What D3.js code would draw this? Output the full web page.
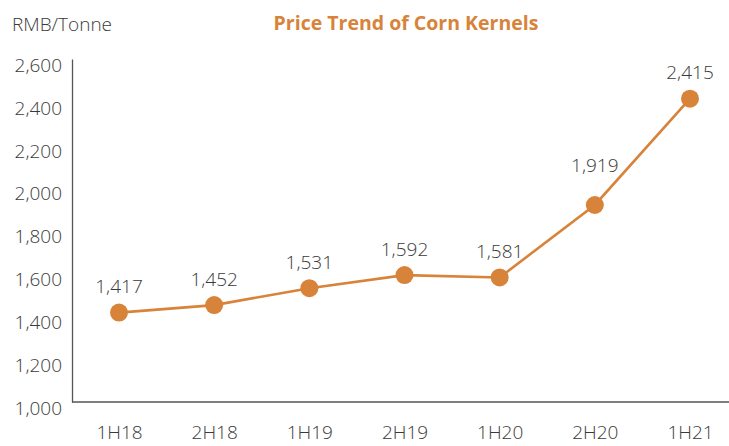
<!DOCTYPE html>
<html>
<head>
<meta charset="utf-8">
<script src="https://cdn.jsdelivr.net/npm/d3@7"></script>
<style>
  body { margin: 0; background: #fff; }
  text { font-family: "Open Sans", "Noto Sans", sans-serif; }
</style>
</head>
<body>
<svg id="chart" width="729" height="446"></svg>
<script>
// chart data
const periods = ['1H18', '2H18', '1H19', '2H19', '1H20', '2H20', '1H21'];
const prices = [1417, 1452, 1531, 1592, 1581, 1919, 2415];
const yTicks = [1000, 1200, 1400, 1600, 1800, 2000, 2200, 2400, 2600];

const width = 729;
const height = 446;
const margin = { top: 59, right: 0, bottom: 44, left: 72 };
const orange = '#d8833a';
const textColor = '#3a3a3a';
const fontSize = '19px';

const svg = d3.select('#chart');

// x is a point scale so every period sits evenly along the axis
const x = d3.scalePoint()
    .domain(periods)
    .range([119, 690]);

const y = d3.scaleLinear()
    .domain([1000, 2600])
    .range([height - margin.bottom, margin.top]);

// y axis: just the line and the labels, no ticks
const yAxis = svg.append('g')
    .attr('transform', `translate(${margin.left},0)`)
    .call(d3.axisLeft(y).tickValues(yTicks).tickSize(0).tickPadding(10).tickFormat(d3.format(',')));
yAxis.select('.domain').attr('stroke', '#555').attr('stroke-width', 1.3);
yAxis.selectAll('text')
    .attr('dy', '0.65em')
    .style('font-size', fontSize)
    .style('font-weight', 300)
    .style('fill', textColor)
    .style('font-family', '"Open Sans", sans-serif');

// x axis
const xAxis = svg.append('g')
    .attr('transform', `translate(0,${height - margin.bottom})`)
    .call(d3.axisBottom(x).tickSize(0).tickPadding(24));
xAxis.select('.domain')
    .attr('d', `M${margin.left},0H${width}`)
    .attr('stroke', '#555').attr('stroke-width', 1.3);
xAxis.selectAll('text')
    .style('font-size', fontSize)
    .style('font-weight', 300)
    .style('fill', textColor)
    .style('font-family', '"Open Sans", sans-serif');

// the price line
const line = d3.line()
    .x((d, i) => x(periods[i]))
    .y(d => y(d));

svg.append('path')
    .datum(prices)
    .attr('d', line)
    .attr('fill', 'none')
    .attr('stroke', orange)
    .attr('stroke-width', 2.6);

svg.selectAll('circle.pt')
    .data(prices)
    .enter()
    .append('circle')
    .attr('class', 'pt')
    .attr('cx', (d, i) => x(periods[i]))
    .attr('cy', d => y(d))
    .attr('r', 9)
    .attr('fill', orange);

// value labels above the points, lifted a bit more where the line climbs steeply after the point
svg.selectAll('text.val')
    .data(prices)
    .enter()
    .append('text')
    .attr('class', 'val')
    .attr('x', (d, i) => x(periods[i]))
    .attr('y', (d, i) => {
        const steep = i < prices.length - 1 && prices[i + 1] - d > 400;
        return y(d) - (steep ? 40 : 26);
    })
    .attr('dy', '0.35em')
    .attr('text-anchor', 'middle')
    .style('font-size', fontSize)
    .style('font-weight', 300)
    .style('fill', textColor)
    .text(d => d3.format(',')(d));

// unit label and title
svg.append('text')
    .attr('x', 12)
    .attr('y', 31)
    .style('font-size', fontSize)
    .style('font-weight', 300)
    .style('fill', textColor)
    .text('RMB/Tonne');

svg.append('text')
    .attr('x', 406)
    .attr('y', 30)
    .attr('text-anchor', 'middle')
    .style('font-size', '19.5px')
    .style('font-weight', 'bold')
    .style('fill', orange)
    .text('Price Trend of Corn Kernels');
</script>
</body>
</html>
